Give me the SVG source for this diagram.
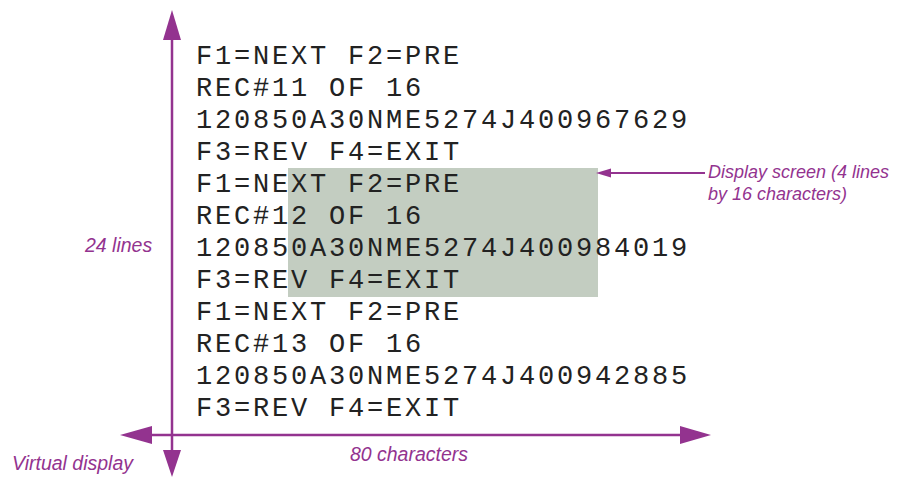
<svg xmlns="http://www.w3.org/2000/svg" width="909" height="478" viewBox="0 0 909 478">
<style>
.mono{font-family:"Liberation Mono","DejaVu Sans Mono",monospace;font-size:27px;letter-spacing:2.8px;fill:#222}
.lbl{font-family:"Liberation Sans","Noto Sans",sans-serif;font-style:italic;font-size:19.5px;fill:#93338f}
.sm{font-size:18px}
.ax{stroke:#93338f;stroke-width:2.5;fill:none}
.hd{fill:#93338f}
</style>
<rect width="909" height="478" fill="#fff"/>
<g id="screen">
<rect x="288" y="168" width="310" height="129" fill="#c3cdc1"/>
</g>
<g id="virtual-display">
<text class="mono" x="196" y="64">F1=NEXT F2=PRE</text>
<text class="mono" x="196" y="96">REC#11 OF 16</text>
<text class="mono" x="196" y="128">120850A30NME5274J400967629</text>
<text class="mono" x="196" y="160">F3=REV F4=EXIT</text>
<text class="mono" x="196" y="192">F1=NEXT F2=PRE</text>
<text class="mono" x="196" y="224">REC#12 OF 16</text>
<text class="mono" x="196" y="256">120850A30NME5274J400984019</text>
<text class="mono" x="196" y="288">F3=REV F4=EXIT</text>
<text class="mono" x="196" y="320">F1=NEXT F2=PRE</text>
<text class="mono" x="196" y="352">REC#13 OF 16</text>
<text class="mono" x="196" y="384">120850A30NME5274J400942885</text>
<text class="mono" x="196" y="416">F3=REV F4=EXIT</text>
</g>
<g id="connectors">
<line class="ax" x1="172" y1="38" x2="172" y2="452"/>
<polygon class="hd" points="172,10 181,40 163,40"/>
<polygon class="hd" points="172,477 181,450 163,450"/>
<line class="ax" x1="150" y1="435" x2="684" y2="435"/>
<polygon class="hd" points="120,435 152,426 152,444"/>
<polygon class="hd" points="711,435 680,426 680,444"/>
<line stroke="#93338f" stroke-width="2" x1="608" y1="173" x2="705" y2="173"/>
<polygon class="hd" points="596,173 611,168.5 611,177.5"/>
</g>
<g id="labels">
<text class="lbl" x="12" y="470">Virtual display</text>
<text class="lbl" x="409" y="461" text-anchor="middle">80 characters</text>
<text class="lbl" x="85" y="252">24 lines</text>
<text class="lbl sm" x="708" y="178">Display screen (4 lines</text>
<text class="lbl sm" x="708" y="200">by 16 characters)</text>
</g>
</svg>
